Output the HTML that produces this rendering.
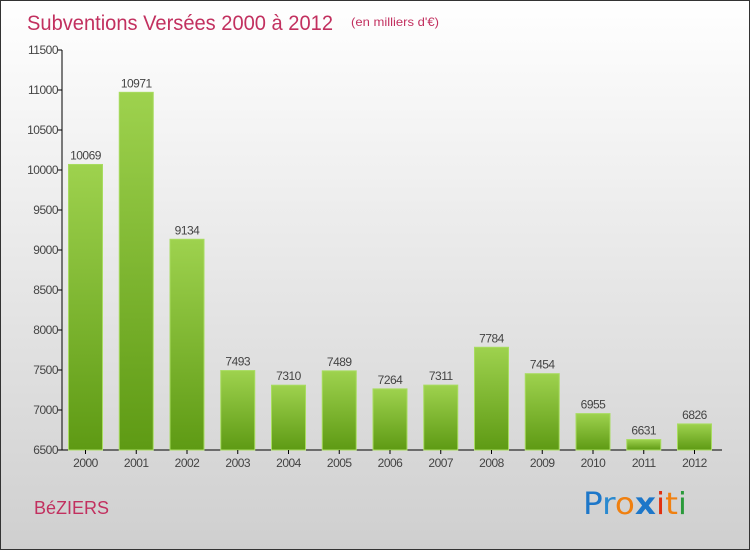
<!DOCTYPE html>
<html><head><meta charset="utf-8"><style>
body{margin:0;width:750px;height:550px;overflow:hidden;font-family:"Liberation Sans",sans-serif}
</style></head><body>
<svg width="750" height="550" xmlns="http://www.w3.org/2000/svg">
<defs>
<linearGradient id="bg" x1="0" y1="0" x2="0" y2="1"><stop offset="0" stop-color="#ffffff"/><stop offset="1" stop-color="#cfcfcf"/></linearGradient>
<linearGradient id="bar" x1="0" y1="0" x2="0" y2="1"><stop offset="0" stop-color="#9ed24e"/><stop offset="1" stop-color="#5e9a14"/></linearGradient>
</defs>
<rect x="0.5" y="0.5" width="749" height="549" fill="url(#bg)" stroke="#333"/>
<text x="27" y="30" font-size="21" fill="#c2305f" textLength="306" lengthAdjust="spacingAndGlyphs">Subventions Versées 2000 à 2012</text>
<text x="351" y="26" font-size="12" fill="#c2305f" textLength="88" lengthAdjust="spacingAndGlyphs">(en milliers d'€)</text>
<g id="plot"></g>
<text x="34" y="514" font-size="18" fill="#c2305f">BéZIERS</text>
<g font-size="30" font-family="'DejaVu Sans',sans-serif">
<text x="583" y="514" textLength="104" lengthAdjust="spacingAndGlyphs"><tspan fill="#1d77c9">P</tspan><tspan fill="#2a8ad0">r</tspan><tspan fill="#f08010">o</tspan><tspan fill="#1d77c9" font-weight="bold">x</tspan><tspan fill="#e03010">i</tspan><tspan fill="#f08010">t</tspan><tspan fill="#2a9a3a">i</tspan></text>
</g>
</svg>
<script>
const years=["2000","2001","2002","2003","2004","2005","2006","2007","2008","2009","2010","2011","2012"];
const values=[10069,10971,9134,7493,7310,7489,7264,7311,7784,7454,6955,6631,6826];
const yTicks=[6500,7000,7500,8000,8500,9000,9500,10000,10500,11000,11500];
const NS="http://www.w3.org/2000/svg";
const g=document.getElementById('plot');
const y=v=>450-(v-6500)*0.08;
const xc=i=>85.5+i*50.75;
function mk(t,a){const e=document.createElementNS(NS,t);for(const k in a)e.setAttribute(k,a[k]);g.appendChild(e);return e;}
let ax=mk('line',{x1:62,y1:50,x2:62,y2:450,stroke:'#000'});


let bx=mk('line',{x1:62,y1:450,x2:722,y2:450,stroke:'#000'});


yTicks.forEach(v=>{
  const tk=mk('line',{x1:58,y1:y(v),x2:62,y2:y(v),stroke:'#000'});
  
  
  const t=mk('text',{x:58,y:y(v)+4,'font-size':12,'text-anchor':'end',fill:'#444','letter-spacing':'-0.5'});
  t.textContent=v;
  
  
});
values.forEach((v,i)=>{
  const r=mk('rect',{x:xc(i)-17,y:y(v),width:34,height:450-y(v),fill:'url(#bar)',stroke:'#a8dc60','stroke-width':1});
  
  
  const t=mk('text',{x:xc(i),y:y(v)-5,'font-size':12,'text-anchor':'middle',fill:'#444','letter-spacing':'-0.5'});
  t.textContent=v;
  
  
  const tk=mk('line',{x1:xc(i),y1:450,x2:xc(i),y2:454,stroke:'#000'});
  
  
  const xl=mk('text',{x:xc(i),y:467,'font-size':12,'text-anchor':'middle',fill:'#444','letter-spacing':'-0.5'});
  xl.textContent=years[i];
  
  
});
</script>
</body></html>
